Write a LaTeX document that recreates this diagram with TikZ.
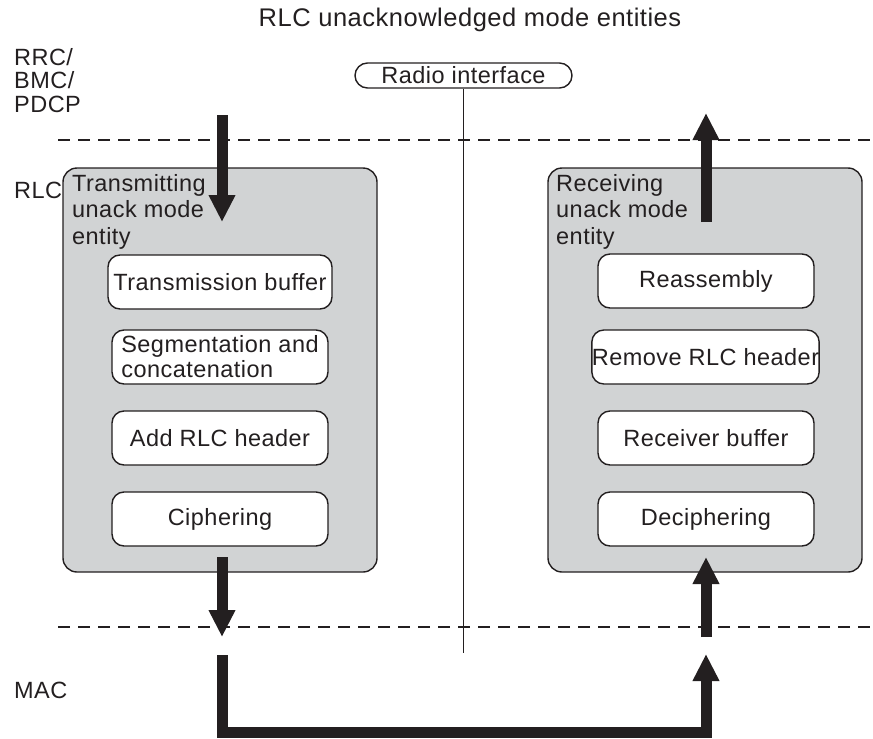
\documentclass[tikz,border=0pt]{standalone}
\usepackage{fontspec}
\setmainfont{Liberation Sans}[LetterSpace=2]
\usetikzlibrary{arrows.meta}
\definecolor{ink}{HTML}{231F20}
\definecolor{panel}{HTML}{D1D3D4}

\begin{document}
\begin{tikzpicture}[x=1pt,y=-1pt,
  txt/.style={font=\fontsize{23.5}{23.5}\selectfont, text=ink, inner sep=0pt},
  entity/.style={draw=ink, line width=1.4pt, fill=panel, rounded corners=14pt,
    minimum width=314pt, minimum height=404pt, inner sep=0pt},
  stepbox/.style={draw=ink, line width=1.4pt, fill=white, rounded corners=12pt,
    minimum width=216pt, minimum height=54pt, inner sep=0pt, text=ink,
    font=\fontsize{23.5}{25}\selectfont, align=left},
  flow/.style={draw=ink, line width=11pt, line join=miter,
    -{Triangle[width=25pt,length=27pt]}},
  layer/.style={draw=ink, line width=1.4pt, dash pattern=on 12pt off 8pt},
  entitylabel/.style={txt, anchor=north west, align=left,
    font=\fontsize{23.5}{26.5}\selectfont}]
\useasboundingbox (0,0) rectangle (873,739);

% layer borders
\coordinate (upL) at (58,140);  \coordinate (upR) at (873,140);
\coordinate (loL) at (58,627);  \coordinate (loR) at (873,627);
\draw[layer] (upL) -- (upR);
\draw[layer] (loL) -- (loR);

% title and layer names
\node[txt, font=\fontsize{25.5}{26}\selectfont] (title) at (470,20) {RLC unacknowledged mode entities};
\node[txt, anchor=north west, align=left] (upper) at (14,48) {RRC/\\BMC/\\PDCP};
\node[txt, anchor=west] (rlc) at (14,190) {RLC};
\node[txt, anchor=west] (mac) at (14,690) {MAC};

% radio interface
\node[txt, draw=ink, line width=1.4pt, rounded corners=12.5pt,
  minimum width=217pt, minimum height=25pt] (radio) at (463.5,75.5) {Radio interface};
\coordinate (radioEnd) at (463.5,653);
\draw[ink, line width=1.4pt] (radio.south) -- (radioEnd);

% transmitting entity
\node[entity] (tx) at (220,370) {};
\node[entitylabel] (txlabel) at (72,174) {Transmitting\\unack mode\\entity};
\node[stepbox, minimum width=224pt] (tbuf) at (220,282) {Transmission buffer};
\node[stepbox] (seg) at (220,357) {Segmentation and\\concatenation};
\node[stepbox] (addh) at (220,438) {Add RLC header};
\node[stepbox] (ciph) at (220,519) {Ciphering};

% receiving entity
\node[entity] (rx) at (705,370) {};
\node[entitylabel] (rxlabel) at (556,174) {Receiving\\unack mode\\entity};
\node[stepbox] (reas) at (706,281) {Reassembly};
\node[stepbox, minimum width=227pt] (remh) at (705.5,357) {Remove RLC header};
\node[stepbox] (rbuf) at (706,438) {Receiver buffer};
\node[stepbox] (deciph) at (706,519) {Deciphering};

% data flow
\coordinate (txIn) at (222,115);   \coordinate (txTip) at (222,222);
\coordinate (txOut) at (222,557);  \coordinate (txDown) at (222,637);
\coordinate (macA) at (222,655);   \coordinate (macA2) at (222,732);
\coordinate (macB2) at (706,732);  \coordinate (macB) at (706,654);
\coordinate (rxIn) at (706,637);   \coordinate (rxTip) at (706,557);
\coordinate (rxOut) at (706,222);  \coordinate (rxUp) at (706,113);

\draw[flow] (txIn) -- (txTip);
\draw[flow] (txOut) -- (txDown);
\draw[flow] (macA) -- (macA2) -- (macB2) -- (macB);
\draw[flow] (rxIn) -- (rxTip);
\draw[flow] (rxOut) -- (rxUp);
\end{tikzpicture}
\end{document}
